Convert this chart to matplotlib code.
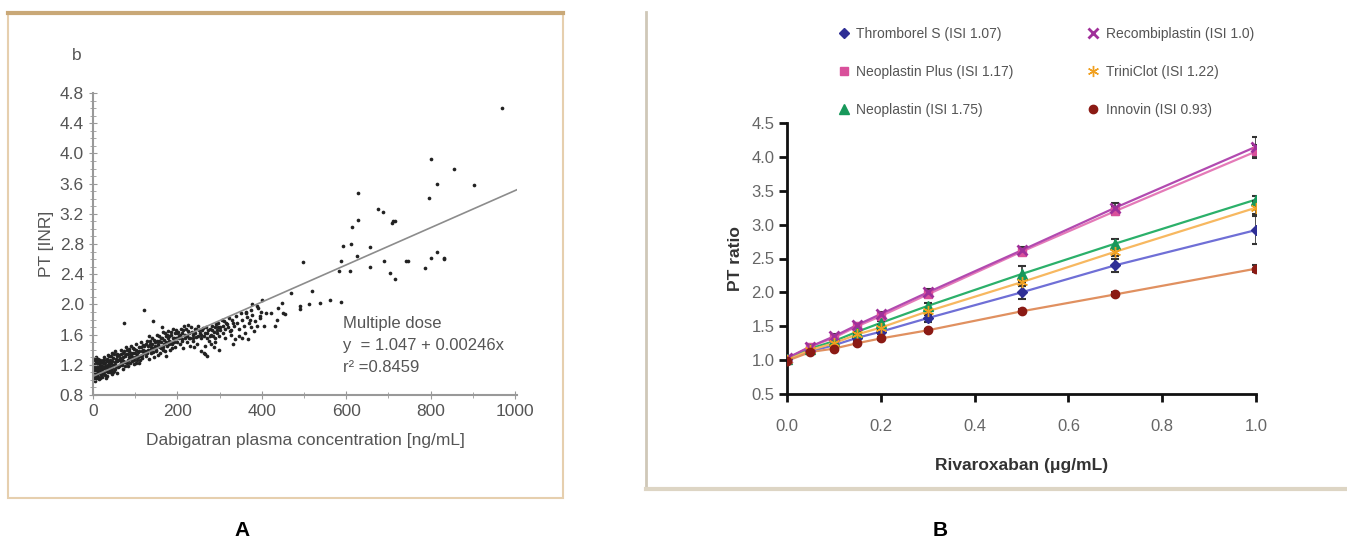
import matplotlib
matplotlib.use('Agg')
import matplotlib.pyplot as plt
from matplotlib.lines import Line2D
from matplotlib.patches import Rectangle
import numpy as np

plt.rcParams['font.family'] = ['Liberation Sans', 'DejaVu Sans']

# ---- Panel A: dabigatran vs INR ----
dense_pts = [
    (2, 1.00), (3, 1.05), (4, 1.12), (5, 1.18), (6, 1.25), (7, 1.08), (8, 1.02), (9, 1.15),
    (10, 1.22), (11, 1.10), (12, 1.04), (13, 1.28), (14, 1.16), (15, 1.09), (16, 1.20),
    (17, 1.13), (18, 1.06), (19, 1.24), (20, 1.11), (1, 1.27), (2, 1.14), (4, 0.98),
    (6, 1.03), (8, 1.19), (12, 1.23), (14, 1.01), (18, 1.17), (3, 1.21), (7, 1.30), (10, 1.07),
    (22, 1.15), (24, 1.22), (25, 1.08), (27, 1.30), (28, 1.18), (30, 1.12), (32, 1.25),
    (33, 1.05), (35, 1.20), (36, 1.33), (38, 1.14), (40, 1.27), (41, 1.10), (43, 1.22),
    (45, 1.35), (46, 1.16), (48, 1.29), (50, 1.12), (52, 1.24), (53, 1.38), (55, 1.19),
    (57, 1.31), (58, 1.09), (60, 1.26), (26, 1.26), (31, 1.02), (37, 1.24), (42, 1.31),
    (47, 1.20), (54, 1.28), (59, 1.17), (34, 1.16), (44, 1.08),
    (62, 1.33), (64, 1.20), (66, 1.40), (68, 1.27), (70, 1.15), (72, 1.36), (74, 1.24),
    (76, 1.31), (78, 1.43), (80, 1.22), (82, 1.34), (84, 1.18), (86, 1.38), (88, 1.28),
    (90, 1.45), (92, 1.25), (94, 1.35), (96, 1.21), (98, 1.41), (100, 1.30), (102, 1.48),
    (104, 1.26), (106, 1.37), (108, 1.23), (110, 1.44), (112, 1.32), (114, 1.50),
    (116, 1.29), (118, 1.40), (120, 1.35), (65, 1.29), (75, 1.19), (85, 1.30), (95, 1.42),
    (105, 1.33), (115, 1.38), (71, 1.25), (81, 1.39), (91, 1.33), (101, 1.22), (111, 1.27),
    (122, 1.45), (125, 1.32), (128, 1.52), (130, 1.40), (133, 1.28), (135, 1.48), (138, 1.36),
    (140, 1.56), (143, 1.42), (145, 1.30), (148, 1.50), (150, 1.38), (152, 1.60), (155, 1.45),
    (158, 1.35), (160, 1.55), (162, 1.42), (165, 1.63), (168, 1.48), (170, 1.38), (172, 1.58),
    (175, 1.45), (178, 1.65), (180, 1.52), (183, 1.40), (185, 1.60), (188, 1.48), (190, 1.68),
    (193, 1.55), (195, 1.43), (198, 1.62), (200, 1.50), (127, 1.38), (137, 1.44), (147, 1.42),
    (157, 1.52), (167, 1.44), (177, 1.55), (187, 1.42), (197, 1.56), (132, 1.58), (163, 1.70),
    (173, 1.32), (153, 1.33),
    (203, 1.58), (206, 1.48), (208, 1.67), (211, 1.54), (214, 1.42), (216, 1.72), (219, 1.60),
    (222, 1.50), (225, 1.65), (228, 1.55), (230, 1.45), (233, 1.70), (236, 1.60), (238, 1.52),
    (241, 1.68), (244, 1.57), (247, 1.48), (250, 1.72), (253, 1.62), (256, 1.55), (259, 1.66),
    (262, 1.58), (265, 1.45), (268, 1.70), (271, 1.62), (274, 1.52), (277, 1.68), (280, 1.60),
    (283, 1.72), (286, 1.64), (289, 1.55), (292, 1.74), (295, 1.66), (298, 1.58), (212, 1.62),
    (226, 1.73), (240, 1.44), (255, 1.38), (263, 1.36), (279, 1.47), (290, 1.50), (296, 1.76),
    (305, 1.79),
    (302, 1.70), (307, 1.62), (310, 1.78), (314, 1.68), (318, 1.74), (322, 1.82), (326, 1.66),
    (330, 1.80), (334, 1.72), (338, 1.85), (342, 1.76), (346, 1.68), (350, 1.88), (354, 1.80),
    (358, 1.72), (362, 1.90), (366, 1.83), (370, 1.76), (374, 1.93), (378, 1.86), (384, 1.78),
    (390, 1.95), (395, 1.85), (312, 1.55), (328, 1.60), (345, 1.58), (360, 1.62), (375, 1.70),
    (388, 1.72), (398, 1.90),
]
# second pass over the densest part of the cloud
dense_pts_2 = [
    (1, 1.05), (2, 1.19), (3, 1.10), (5, 1.02), (5, 1.28), (6, 1.14), (8, 1.25), (9, 1.05),
    (11, 1.17), (13, 1.12), (15, 1.24), (16, 1.03), (17, 1.27), (19, 1.08), (21, 1.19),
    (21, 1.04), (23, 1.27), (24, 1.10), (26, 1.16), (29, 1.23), (29, 1.07), (32, 1.18),
    (34, 1.28), (36, 1.10), (38, 1.21), (39, 1.32), (41, 1.18), (43, 1.13), (45, 1.25),
    (47, 1.11), (49, 1.34), (51, 1.20), (53, 1.15), (56, 1.25), (58, 1.34), (61, 1.19),
    (63, 1.26), (66, 1.22), (67, 1.34), (69, 1.20), (72, 1.30), (74, 1.38), (77, 1.24),
    (79, 1.34), (83, 1.27), (85, 1.41), (87, 1.23), (89, 1.36), (93, 1.30), (97, 1.27),
    (99, 1.36), (103, 1.40), (107, 1.30), (109, 1.38), (113, 1.43), (117, 1.33), (119, 1.46),
    (123, 1.38), (126, 1.48), (129, 1.35), (131, 1.45), (134, 1.52), (136, 1.40), (139, 1.48),
    (142, 1.37), (144, 1.53), (146, 1.45), (149, 1.40), (151, 1.52), (154, 1.48), (156, 1.58),
    (159, 1.44), (161, 1.50), (164, 1.56), (166, 1.40), (169, 1.53), (171, 1.62), (174, 1.50),
    (176, 1.60), (179, 1.47), (181, 1.58), (184, 1.50), (186, 1.64), (189, 1.56), (191, 1.50),
    (194, 1.62), (196, 1.66), (199, 1.55), (202, 1.63), (205, 1.55), (207, 1.60), (210, 1.51),
    (213, 1.66), (217, 1.56), (220, 1.68), (223, 1.58), (227, 1.62), (231, 1.55), (234, 1.64),
    (237, 1.56), (242, 1.62), (245, 1.67), (248, 1.58), (252, 1.66), (257, 1.60), (261, 1.69),
    (266, 1.62), (270, 1.56), (273, 1.66), (278, 1.58), (282, 1.66), (285, 1.58), (288, 1.70),
    (293, 1.62), (297, 1.70), (301, 1.66), (309, 1.72), (316, 1.76), (320, 1.70), (332, 1.76),
]
outlier_pts = [
    (970, 4.60), (801, 3.92), (855, 3.79), (815, 3.60), (904, 3.58), (796, 3.41), (627, 3.47),
    (676, 3.27), (687, 3.23), (627, 3.12), (708, 3.08), (712, 3.10), (716, 3.11), (613, 3.02),
    (593, 2.78), (611, 2.80), (656, 2.76), (625, 2.64), (497, 2.56), (589, 2.58), (689, 2.58),
    (741, 2.58), (746, 2.58), (815, 2.70), (800, 2.61), (831, 2.61), (833, 2.60), (656, 2.49),
    (788, 2.48), (583, 2.44), (609, 2.44), (704, 2.42), (716, 2.34), (520, 2.18), (469, 2.15),
    (538, 2.02), (561, 2.06), (587, 2.03), (490, 1.98), (491, 1.94), (511, 2.01), (120, 1.93),
    (74, 1.75), (143, 1.78), (378, 2.01), (401, 2.06), (389, 1.98), (409, 1.89), (422, 1.89),
    (447, 2.02), (451, 1.89), (431, 1.71), (405, 1.71), (382, 1.65), (371, 1.80), (363, 1.89),
    (397, 1.82), (435, 1.80), (456, 1.87), (439, 1.95), (325, 1.65), (337, 1.54), (354, 1.56),
    (367, 1.54), (333, 1.47), (299, 1.40), (266, 1.34), (270, 1.32), (287, 1.43),
]
fit_intercept = 1.047
fit_slope = 0.00246

# ---- Panel B: rivaroxaban vs PT ratio ----
riva = [0.0, 0.05, 0.1, 0.15, 0.2, 0.3, 0.5, 0.7, 1.0]
reagents = ['Thromborel S (ISI 1.07)', 'Neoplastin Plus (ISI 1.17)', 'Neoplastin (ISI 1.75)',
            'Recombiplastin (ISI 1.0)', 'TriniClot (ISI 1.22)', 'Innovin (ISI 0.93)']
thromborel = [1.02, 1.13, 1.22, 1.33, 1.42, 1.62, 2.00, 2.40, 2.92]
neo_plus = [1.02, 1.20, 1.33, 1.50, 1.65, 1.97, 2.60, 3.20, 4.08]
neoplastin = [1.02, 1.17, 1.28, 1.42, 1.55, 1.80, 2.27, 2.72, 3.37]
recombi = [1.03, 1.20, 1.35, 1.52, 1.68, 2.00, 2.62, 3.25, 4.15]
triniclot = [1.00, 1.15, 1.25, 1.38, 1.48, 1.72, 2.15, 2.60, 3.25]
innovin = [0.99, 1.12, 1.17, 1.25, 1.32, 1.44, 1.72, 1.97, 2.35]
thromborel_err = [0.03, 0.03, 0.03, 0.03, 0.03, 0.05, 0.10, 0.10, 0.20]
neo_plus_err = [0.03, 0.03, 0.03, 0.03, 0.03, 0.04, 0.05, 0.06, 0.10]
neoplastin_err = [0.03, 0.03, 0.03, 0.03, 0.03, 0.04, 0.12, 0.07, 0.05]
recombi_err = [0.03, 0.03, 0.03, 0.03, 0.03, 0.05, 0.05, 0.07, 0.15]
triniclot_err = [0.03, 0.03, 0.03, 0.03, 0.03, 0.04, 0.06, 0.06, 0.10]
innovin_err = [0.02, 0.02, 0.02, 0.02, 0.02, 0.02, 0.03, 0.03, 0.05]

fig = plt.figure(figsize=(13.47, 5.42), dpi=100)

# frames around the panels
fig.patches.append(Rectangle((8 / 1347, 1 - 498 / 542), 555 / 1347, 485 / 542,
                             transform=fig.transFigure, fill=False,
                             edgecolor='#e6cfae', linewidth=1.5))
fig.add_artist(Line2D([8 / 1347, 563 / 1347], [1 - 13 / 542, 1 - 13 / 542],
                      transform=fig.transFigure, color='#c9a877', linewidth=3))
fig.add_artist(Line2D([646 / 1347, 646 / 1347], [1 - 12 / 542, 1 - 489 / 542],
                      transform=fig.transFigure, color='#cfc8b8', linewidth=2))
fig.add_artist(Line2D([646 / 1347, 1.0], [1 - 489 / 542, 1 - 489 / 542],
                      transform=fig.transFigure, color='#ddd5c4', linewidth=3))

# ---- panel A ----
gray = '#555555'
axA = fig.add_axes([93 / 1347, 1 - 395 / 542, 424 / 1347, 302 / 542])
for pts in (dense_pts, dense_pts_2, outlier_pts):
    px, py = zip(*pts)
    axA.scatter(px, py, s=7, color='#222222', linewidths=0)
fit_x = np.array([0, 1005])
axA.plot(fit_x, fit_intercept + fit_slope * fit_x, color='#8c8c8c', linewidth=1.2)
axA.set_xlim(0, 1005)
axA.set_ylim(0.8, 4.8)
axA.set_xticks([0, 200, 400, 600, 800, 1000])
axA.set_xticks(np.arange(100, 1000, 200), minor=True)
axA.set_yticks(np.arange(0.8, 4.81, 0.4))
axA.set_yticks(np.arange(0.8, 4.81, 0.1), minor=True)
axA.set_yticklabels([f'{v:.1f}' for v in np.arange(0.8, 4.81, 0.4)])
for s in ['top', 'right']:
    axA.spines[s].set_visible(False)
for s in ['left', 'bottom']:
    axA.spines[s].set_color('#999999')
    axA.spines[s].set_linewidth(1.5)
axA.tick_params(axis='both', which='both', colors='#999999', labelcolor=gray,
                labelsize=12.5, direction='inout')
axA.tick_params(axis='both', which='major', length=6)
axA.tick_params(axis='both', which='minor', length=4)
axA.set_xlabel('Dabigatran plasma concentration [ng/mL]', fontsize=12.5, color=gray,
               labelpad=10)
axA.set_ylabel('PT [INR]', fontsize=12.5, color=gray, labelpad=4)
axA.text(-0.05, 1.11, 'b', transform=axA.transAxes, fontsize=12.5, color=gray)
axA.text(592, 1.06, 'Multiple dose\ny  = 1.047 + 0.00246x\nr\u00b2 =0.8459', fontsize=12,
         color=gray, linespacing=1.6, va='bottom')

# ---- panel B ----
axB = fig.add_axes([787 / 1347, 1 - 394 / 542, 469 / 1347, 271 / 542])
series = [
    (thromborel, thromborel_err, '#6f6fd6', '#2f2f96', 'D', 5),
    (neo_plus, neo_plus_err, '#e47ab8', '#d9509b', 's', 6),
    (neoplastin, neoplastin_err, '#2bb06a', '#17985a', '^', 7),
    (recombi, recombi_err, '#b24ab0', '#a0309a', 'x', 7),
    (triniclot, triniclot_err, '#f7b860', '#f0a020', (6, 2, 0), 8),
    (innovin, innovin_err, '#e09060', '#8b1a14', 'o', 6),
]
handles = []
for vals, err, lc, mc, mk, ms in series:
    axB.plot(riva, vals, color=lc, linewidth=1.6, zorder=2)
    axB.errorbar(riva, vals, yerr=err, fmt='none', ecolor='#333333', elinewidth=1.2,
                 capsize=3, capthick=1.5, zorder=3)
    axB.plot(riva, vals, linestyle='none', marker=mk, color=mc, markersize=ms,
             markeredgewidth=2 if mk == 'x' else 1, zorder=4)
    handles.append(Line2D([], [], linestyle='none', marker=mk, color=mc, markersize=ms,
                          markeredgewidth=2 if mk == 'x' else 1))
axB.set_xlim(0, 1.0)
axB.set_ylim(0.5, 4.5)
axB.set_xticks(np.arange(0, 1.01, 0.2))
axB.set_xticklabels([f'{v:.1f}' for v in np.arange(0, 1.01, 0.2)])
axB.set_yticks(np.arange(0.5, 4.51, 0.5))
axB.set_yticklabels([f'{v:.1f}' for v in np.arange(0.5, 4.51, 0.5)])
for s in ['top', 'right']:
    axB.spines[s].set_visible(False)
for s in ['left', 'bottom']:
    axB.spines[s].set_color('#111111')
    axB.spines[s].set_linewidth(2)
axB.tick_params(axis='both', colors='#111111', labelcolor='#666666', width=2, length=6,
                direction='out', labelsize=12)
axB.tick_params(axis='x', pad=12)
axB.tick_params(axis='y', pad=3)
axB.set_xlabel('Rivaroxaban (\u03bcg/mL)', fontsize=12.5, fontweight='bold', color='#333333',
               labelpad=17)
axB.set_ylabel('PT ratio', fontsize=12.5, fontweight='bold', color='#333333', labelpad=6)
leg = axB.legend(handles, reagents, ncol=2, loc='lower left', bbox_to_anchor=(0.08, 0.975),
                 frameon=False, labelcolor='#555555', handletextpad=0.4,
                 columnspacing=5.2, labelspacing=1.75, handlelength=1.0,
                 prop={'size': 10})

fig.text(242 / 1347, 1 - 530 / 542, 'A', fontsize=15, fontweight='bold', ha='center',
         va='center')
fig.text(940 / 1347, 1 - 530 / 542, 'B', fontsize=15, fontweight='bold', ha='center',
         va='center')

fig.savefig('out.png', dpi=100)
